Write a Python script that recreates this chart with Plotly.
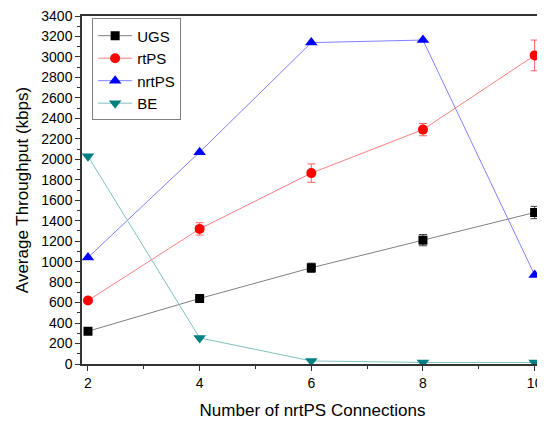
import plotly.graph_objects as go

x_vals = [2, 4, 6, 8, 10]
ugs = [320, 640, 940, 1210, 1480]
ugs_err = [20, 25, 45, 55, 60]
rtps = [620, 1320, 1865, 2290, 3015]
rtps_err = [20, 60, 90, 60, 150]
nrtps = [1040, 2070, 3140, 3165, 870]
be = [2030, 255, 30, 15, 15]

y_ticks = list(range(0, 3401, 200))
x_ticks = [2, 4, 6, 8, 10]

fig = go.Figure()

fig.add_trace(go.Scatter(
    x=x_vals, y=ugs, name="UGS", mode="lines+markers",
    line=dict(color="#808080", width=1),
    marker=dict(symbol="square", color="black", size=9),
    error_y=dict(type="data", array=ugs_err, visible=True, color="#404040", thickness=1, width=4),
))
fig.add_trace(go.Scatter(
    x=x_vals, y=rtps, name="rtPS", mode="lines+markers",
    line=dict(color="#ff8080", width=1),
    marker=dict(symbol="circle", color="#ff0000", size=10),
    error_y=dict(type="data", array=rtps_err, visible=True, color="#ff6060", thickness=1, width=4),
))
fig.add_trace(go.Scatter(
    x=x_vals, y=nrtps, name="nrtPS", mode="lines+markers",
    line=dict(color="#8080ff", width=1),
    marker=dict(symbol="triangle-up", color="#0000ff", size=11),
))
fig.add_trace(go.Scatter(
    x=x_vals, y=be, name="BE", mode="lines+markers",
    line=dict(color="#80c0c0", width=1),
    marker=dict(symbol="triangle-down", color="#008080", size=11),
))

font_family = "Liberation Sans, Arial, sans-serif"

fig.update_layout(
    width=537, height=415,
    margin=dict(l=74, r=0, t=7, b=59),
    paper_bgcolor="white", plot_bgcolor="white",
    font=dict(family=font_family, color="black", size=14),
    showlegend=True,
    legend=dict(
        x=0.022, y=0.993, xanchor="left", yanchor="top",
        bordercolor="#808080", borderwidth=1, bgcolor="white",
        font=dict(size=15, family=font_family), itemwidth=34,
        tracegroupgap=0,
    ),
    xaxis=dict(
        range=[1.893, 10.15], tickvals=x_ticks, ticktext=[str(v) for v in x_ticks],
        showgrid=False, zeroline=False, showline=True, linecolor="#333333", linewidth=1.5,
        mirror=True, ticks="outside", ticklen=5, tickcolor="#333333", tickwidth=1,
        minor=dict(dtick=1, tick0=2, ticks="outside", ticklen=3, tickcolor="#333333", tickwidth=1),
        title=dict(text="Number of nrtPS Connections", font=dict(size=17), standoff=15),
        tickfont=dict(size=14), ticklabeloverflow="allow",
    ),
    yaxis=dict(
        range=[0, 3400], tickvals=y_ticks, ticktext=[str(v) for v in y_ticks],
        showgrid=False, zeroline=False, showline=True, linecolor="#333333", linewidth=1.5,
        mirror=True, ticks="outside", ticklen=5, tickcolor="#333333", tickwidth=1,
        minor=dict(dtick=100, tick0=0, ticks="outside", ticklen=3, tickcolor="#333333", tickwidth=1),
        title=dict(text="Average Throughput (kbps)", font=dict(size=17), standoff=8),
        tickfont=dict(size=14), ticklabeloverflow="allow",
    ),
)

fig.write_html("out.html")
